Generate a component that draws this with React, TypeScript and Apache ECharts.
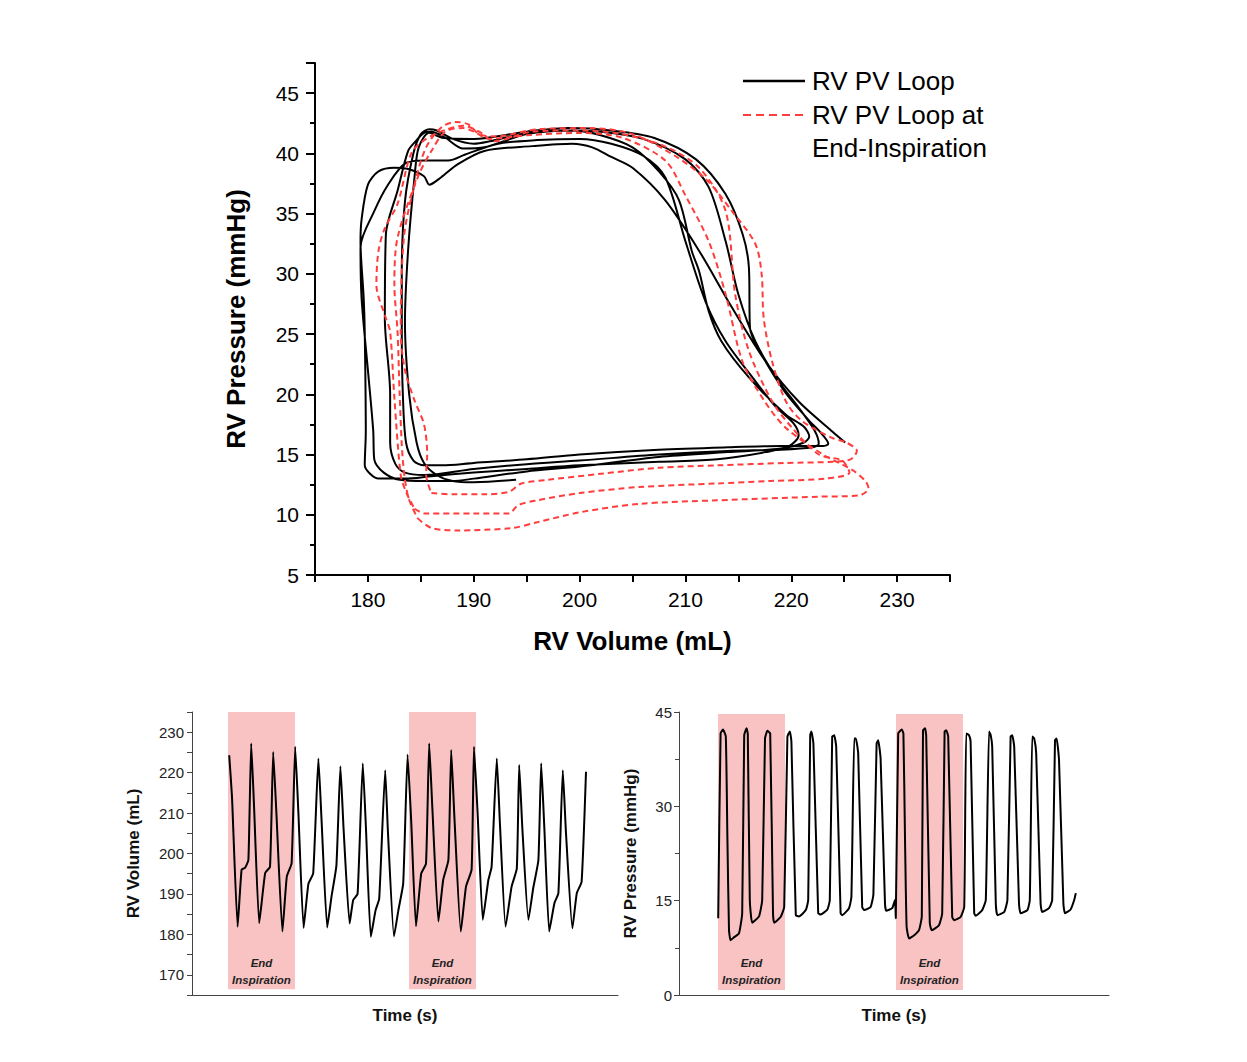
import React, { useEffect, useRef } from 'react';
import * as echarts from 'echarts';

const FONT = '"Liberation Sans", Arial, Helvetica, sans-serif';

// ---------- Top: RV PV loops (volume mL, pressure mmHg) ----------
const blackLoopTrace: [number, number][] = [
  [225.1, 16.0], [223.9, 16.9], [220.7, 19.4], [217.6, 22.7], [214.4, 27.2], [211.3, 31.9], [208.1, 36.1], [205, 38.8], [203, 39.7], [201.2, 40.5], [199.3, 40.8], [195.5, 40.6], [191, 40.2], [188.5, 39.1], [186.9, 38.0], [185.8, 37.4], [185.3, 38.1], [183.8, 38.7], [182.5, 38.8], [181, 38.5], [180, 37.4], [179.4, 34.5], [179.3, 32.7], [179.6, 28], [179.7, 25.2], [179.8, 16.9], [179.7, 14.1], [180.2, 13.4], [181, 13.0], [183.5, 13.0], [186, 13.2], [190, 13.5], [195, 13.8], [200, 14.1], [207.5, 14.4], [213, 14.6], [217.6, 15.2], [219.8, 15.7], [220.7, 16.6],
  [220.2, 17.6], [218.5, 19.0], [216.6, 21.1], [213.8, 24.4], [211.9, 27.7], [210, 32.7], [208.1, 38], [206, 39.8], [203, 40.8], [200, 41.2], [196, 41.1], [192.3, 40.8], [189.2, 39.9], [187.6, 39.4], [185.3, 39.4], [183.6, 39.2], [181.9, 37.4], [180.6, 35.2], [179.3, 32.2], [179.4, 28], [180, 22], [180.5, 17], [180.6, 14.6], [181.5, 13.5], [183, 12.9], [185.3, 12.8], [188, 12.8], [190, 13.0], [195, 13.6], [200, 14.0], [207.5, 14.8], [214, 15.2], [219, 15.5], [221.2, 16.0], [221.7, 16.5],
  [221.2, 17.3], [219.5, 18.3], [216, 21.4], [213.4, 24.4], [212.2, 26.9], [211.3, 30.2], [210.6, 31.9], [209.4, 36.1], [207.5, 38.5], [205, 40.5], [202, 41.5], [199.3, 41.9], [195, 41.6], [191, 40.5], [189, 40.4], [187.3, 41.3], [186, 41.8], [185.3, 41.7], [184.5, 41.0], [183.8, 40.2], [182.8, 36.9], [181.7, 33.3], [181.6, 26.3], [182.1, 20], [182.1, 16], [182.6, 14.2], [183.5, 13.5], [185.3, 13.3], [190, 13.8], [195, 14.2], [200, 14.5], [207.5, 15.0], [214, 15.3], [219, 15.4], [222, 15.6], [222.6, 15.9],
  [222.2, 17], [220.7, 18.9], [218.8, 21.1], [216.6, 24.4], [215, 28.3], [213.8, 32.7], [212.2, 37.2], [210, 39.5], [206, 41.2], [202, 41.8], [198, 41.9], [194, 41.5], [191.5, 41.0], [190, 40.8], [188, 41.2], [186.5, 41.9], [185.8, 42.0], [185, 41.6], [184.3, 40], [183.5, 36], [183.2, 30], [183.2, 25.2], [183.3, 20], [183.6, 16], [184.3, 14.5], [185.3, 14.1], [187, 14.1], [190, 14.3], [195, 14.6], [200, 15.0], [207.5, 15.4], [214, 15.6], [219, 15.7], [223, 15.7], [223.5, 15.9],
  [222.8, 16.8], [221.7, 17.8], [219.4, 20.2], [217.2, 23.3], [216.1, 25.5], [216, 30.5], [215.4, 33.3], [213.8, 36.6], [211, 39.5], [207, 41.3], [203, 41.9], [199, 42.1], [195, 41.8], [190, 41.2], [187, 41.3], [185.8, 41.7], [184.8, 40.5], [184.4, 38], [183.8, 32], [183.5, 26], [183.9, 20], [184.6, 16], [185.3, 14.3], [186.5, 13.3], [188, 12.8], [190, 12.7], [194, 12.9],
];

const redLoop1: [number, number][] = [
  [186.0, 11.8], [188, 11.7], [191, 11.7], [193.3, 11.9], [194.5, 12.6], [197, 12.9], [202, 13.4], [207.5, 13.9], [213, 14.1], [219.4, 14.3], [224, 14.4], [225.6, 14.6], [226.2, 15.3], [225.2, 16.0], [223.8, 16.4], [221, 17.8], [219.5, 19.4], [218.2, 22.7], [217.4, 26.3], [217.2, 30], [216.6, 32.5], [214.4, 35.2], [212, 37.8], [209, 39.8], [205, 41.6], [201, 42.1], [196, 42.0], [192, 41.4], [190.5, 41.6], [189.5, 42.4], [188.3, 42.6], [187, 42.2], [185.5, 40.5], [184.4, 37.4], [183.4, 33], [183.1, 25.2], [183.5, 22], [184.4, 19.5], [185.3, 17.5], [185.6, 15], [185.5, 13.3], [186.0, 11.8],
];
const redLoop2: [number, number][] = [
  [184.4, 10.5], [185.4, 10.1], [190, 10.1], [193.3, 10.1], [194.2, 10.8], [196, 11.2], [200, 11.8], [205.6, 12.3], [213, 12.6], [218, 12.8], [223.2, 13.0], [225.5, 13.5], [224.8, 14.5], [222.6, 15.0], [220.1, 17.2], [218.2, 19.4], [216, 23.6], [214.7, 28.3], [213.8, 35.2], [211.3, 38.8], [208, 40.6], [204, 41.6], [200, 41.9], [195.5, 41.8], [192, 41.0], [190.5, 41.8], [189, 42.3], [187.5, 42.0], [185.5, 41.2], [184.1, 40.0], [182.8, 35.8], [181.6, 33.8], [181, 31.9], [180.8, 29.1], [181.7, 26.3], [182.1, 25.2], [182.5, 19.7], [183.1, 13.3], [183.6, 11.9], [184.4, 10.5],
];
const redLoop3: [number, number][] = [
  [184.7, 9.7], [186, 8.9], [188.5, 8.7], [193.6, 8.9], [196.1, 9.4], [200, 10.2], [205.6, 10.9], [213, 11.2], [222.6, 11.5], [226.4, 11.6], [227.3, 12.2], [227, 12.8], [225.8, 13.7], [223, 15.0], [219.5, 17.2], [217.5, 19.4], [215.4, 22.7], [213.8, 28.3], [212.2, 32.7], [210, 36.5], [208.1, 39.4], [204, 41.3], [200, 41.7], [195, 41.5], [191.5, 41.2], [190, 41.8], [189, 42.1], [187.3, 41.8], [186, 40.2], [184.8, 38.2], [182.8, 33], [182.5, 29.1], [182.8, 25.2], [183, 20], [183.3, 14.5], [183.8, 11.5], [184.7, 9.7],
];

// ---------- Bottom left: RV volume vs time (s, mL) ----------
const volumeTrace: [number, number][] = [
  [0.93, 224.3], [1.00, 214], [1.14, 181.9], [1.24, 196], [1.33, 196.5], [1.41, 198.4], [1.48, 227.2],
  [1.55, 212], [1.68, 182.8], [1.83, 195.2], [1.95, 196.7], [2.03, 225.1],
  [2.11, 210], [2.26, 180.7], [2.37, 194.3], [2.49, 197.6], [2.58, 226.4],
  [2.66, 210], [2.79, 181.6], [2.91, 192.5], [3.03, 195.1], [3.16, 223.5],
  [3.24, 208], [3.38, 181.7], [3.49, 189.5], [3.61, 197], [3.71, 221.6],
  [3.79, 206], [3.94, 182.7], [4.03, 188.5], [4.14, 190], [4.27, 222.3],
  [4.35, 206], [4.47, 179.4], [4.59, 186], [4.68, 188.8], [4.83, 220.6],
  [4.90, 205], [5.05, 179.5], [5.16, 186], [5.28, 192.6], [5.39, 224.5],
  [5.48, 208], [5.60, 182], [5.73, 195], [5.85, 197.5], [5.93, 227.2],
  [6.01, 211], [6.16, 183.2], [6.28, 193.5], [6.41, 198.4], [6.48, 225.6],
  [6.56, 209], [6.72, 180.7], [6.85, 191.8], [6.99, 196], [7.05, 226.4],
  [7.14, 210], [7.27, 183.6], [7.41, 193.5], [7.49, 196.7], [7.62, 223.5],
  [7.70, 207], [7.84, 181.9], [7.99, 191.8], [8.12, 196.3], [8.18, 221.9],
  [8.26, 206], [8.41, 183.6], [8.53, 191.4], [8.66, 198.4], [8.73, 222.3],
  [8.81, 206], [8.93, 180.7], [9.06, 187.7], [9.16, 190.2], [9.27, 220.6],
  [9.35, 205], [9.51, 181.5], [9.62, 190.2], [9.74, 193], [9.85, 220.2],
];
const volumeInspWindows: [number, number][] = [[0.9, 2.575], [5.425, 7.1]];

// ---------- Bottom right: RV pressure vs time (s, mmHg) ----------
const pressureTrace: [number, number][] = [
  [0.98, 12.2], [1.04, 41.6], [1.10, 42.2], [1.17, 41.1], [1.21, 25], [1.25, 10.3], [1.29, 8.7], [1.38, 9.2], [1.50, 9.8], [1.58, 13],
  [1.63, 41.3], [1.69, 42.4], [1.72, 41.5], [1.77, 15.1], [1.83, 11.5], [2.00, 12.5], [2.08, 15.1],
  [2.15, 40.8], [2.21, 42], [2.28, 41.6], [2.35, 13], [2.38, 11.5], [2.54, 12.4], [2.63, 14],
  [2.71, 41.1], [2.77, 41.9], [2.81, 40.3], [2.92, 12.7], [3.00, 12.5], [3.17, 13.5], [3.23, 15.1],
  [3.28, 41.3], [3.31, 41.9], [3.36, 40], [3.48, 13], [3.54, 12.8], [3.71, 13.6], [3.77, 15.1],
  [3.83, 41.1], [3.88, 41.3], [3.93, 39.5], [4.04, 13], [4.08, 12.7], [4.25, 13.8], [4.31, 15.6],
  [4.38, 40.8], [4.42, 40.8], [4.48, 38.4], [4.58, 14], [4.63, 13.5], [4.79, 14], [4.86, 16],
  [4.94, 40], [4.98, 40.5], [5.04, 37.6], [5.15, 14.5], [5.18, 13.4], [5.33, 13.8], [5.40, 15.1], [5.42, 12.2],
  [5.48, 41.6], [5.57, 42.2], [5.61, 41.6], [5.65, 25], [5.69, 10.9], [5.75, 9], [5.88, 9.5], [6.00, 10.3], [6.07, 12.5],
  [6.10, 42.1], [6.15, 42.4], [6.18, 41.2], [6.27, 11.4], [6.32, 10.3], [6.50, 11.1], [6.58, 13],
  [6.64, 41.9], [6.68, 42.1], [6.73, 41.1], [6.83, 12.4], [6.88, 11.9], [7.04, 12.4], [7.13, 14],
  [7.18, 41.6], [7.25, 41.3], [7.29, 40.3], [7.38, 13], [7.42, 12.6], [7.58, 13.5], [7.67, 15.1],
  [7.75, 41.9], [7.79, 41.4], [7.83, 39.5], [7.92, 14.5], [7.96, 12.7], [8.13, 13.2], [8.21, 15.1],
  [8.29, 41.1], [8.33, 41.3], [8.38, 39.5], [8.50, 14.5], [8.54, 13], [8.71, 13.5], [8.77, 15.1],
  [8.83, 41.1], [8.88, 40.8], [8.93, 38.4], [9.04, 14.5], [9.08, 13.2], [9.25, 13.8], [9.33, 15.1],
  [9.40, 40.5], [9.44, 40.8], [9.50, 37.4], [9.61, 14.5], [9.65, 13], [9.79, 13.6], [9.88, 15.1], [9.92, 16.2],
];
const pressureInspWindows: [number, number][] = [[0.975, 2.65], [5.425, 7.1]];

const PINK = '#f9c3c3';
const RED = '#ff3d3d';

function buildOption(): any {
  const bottomAxisLine = { show: true, lineStyle: { color: '#444', width: 1 } };
  const inspLabel = {
    show: true,
    position: 'insideBottom',
    distance: 1,
    formatter: 'End\nInspiration',
    fontFamily: FONT,
    fontSize: 11.5,
    fontStyle: 'italic',
    fontWeight: 'bold',
    color: '#222',
    lineHeight: 17,
  };
  return {
    animation: false,
    backgroundColor: '#ffffff',
    textStyle: { fontFamily: FONT },
    grid: [
      { left: 315, top: 63, width: 635, height: 512 },
      { left: 192, top: 712, width: 426, height: 283 },
      { left: 679, top: 712, width: 430, height: 283 },
    ],
    xAxis: [
      {
        type: 'value', gridIndex: 0, min: 175, max: 235, interval: 5,
        axisLine: { show: true, onZero: false, lineStyle: { color: '#000', width: 2 } },
        axisTick: { show: true, length: 7, lineStyle: { color: '#000', width: 2 } },
        axisLabel: {
          formatter: (v: number) => (v % 10 === 0 ? String(v) : ''),
          fontSize: 21, color: '#000', margin: 14, fontFamily: FONT,
        },
        splitLine: { show: false },
        name: 'RV Volume (mL)', nameLocation: 'middle', nameGap: 53,
        nameTextStyle: { fontSize: 26, fontWeight: 'bold', color: '#000', fontFamily: FONT },
      },
      {
        type: 'value', gridIndex: 1, min: 0, max: 10.65,
        axisLine: { ...bottomAxisLine, onZero: false },
        axisTick: { show: false }, axisLabel: { show: false }, splitLine: { show: false },
        name: 'Time (s)', nameLocation: 'middle', nameGap: 12,
        nameTextStyle: { fontSize: 17, fontWeight: 'bold', color: '#111', fontFamily: FONT },
      },
      {
        type: 'value', gridIndex: 2, min: 0, max: 10.75,
        axisLine: { ...bottomAxisLine, onZero: false },
        axisTick: { show: false }, axisLabel: { show: false }, splitLine: { show: false },
        name: 'Time (s)', nameLocation: 'middle', nameGap: 12,
        nameTextStyle: { fontSize: 17, fontWeight: 'bold', color: '#111', fontFamily: FONT },
      },
    ],
    yAxis: [
      {
        type: 'value', gridIndex: 0, min: 5, max: 47.5, interval: 5,
        axisLine: { show: true, onZero: false, lineStyle: { color: '#000', width: 2 } },
        axisTick: { show: true, length: 9, lineStyle: { color: '#000', width: 2 } },
        minorTick: { show: true, splitNumber: 2, length: 5, lineStyle: { color: '#000', width: 2 } },
        axisLabel: { showMaxLabel: false, fontSize: 21, color: '#000', margin: 16, fontFamily: FONT },
        splitLine: { show: false }, minorSplitLine: { show: false },
        name: 'RV Pressure (mmHg)', nameLocation: 'middle', nameGap: 66,
        nameTextStyle: { fontSize: 26, fontWeight: 'bold', color: '#000', fontFamily: FONT },
      },
      {
        type: 'value', gridIndex: 1, min: 165, max: 235, interval: 5,
        axisLine: { ...bottomAxisLine, onZero: false },
        axisTick: { show: true, length: 5, lineStyle: { color: '#444', width: 1 } },
        axisLabel: {
          formatter: (v: number) => (v % 10 === 0 ? String(v) : ''),
          fontSize: 15, color: '#222', margin: 8, fontFamily: FONT,
        },
        splitLine: { show: false },
        name: 'RV Volume (mL)', nameLocation: 'middle', nameGap: 50,
        nameTextStyle: { fontSize: 17, fontWeight: 'bold', color: '#111', fontFamily: FONT },
      },
      {
        type: 'value', gridIndex: 2, min: 0, max: 45, interval: 15,
        axisLine: { ...bottomAxisLine, onZero: false },
        axisTick: { show: true, length: 5, lineStyle: { color: '#444', width: 1 } },
        minorTick: { show: true, splitNumber: 2, length: 4, lineStyle: { color: '#444', width: 1 } },
        axisLabel: { fontSize: 15, color: '#222', margin: 7, fontFamily: FONT },
        splitLine: { show: false }, minorSplitLine: { show: false },
        name: 'RV Pressure (mmHg)', nameLocation: 'middle', nameGap: 40,
        nameTextStyle: { fontSize: 17, fontWeight: 'bold', color: '#111', fontFamily: FONT },
      },
    ],
    series: [
      {
        name: 'RV PV Loop', type: 'line', xAxisIndex: 0, yAxisIndex: 0,
        data: blackLoopTrace, showSymbol: false, symbol: 'none', smooth: 0.3,
        lineStyle: { color: '#000', width: 2 },
      },
      ...[redLoop1, redLoop2, redLoop3].map((d) => ({
        name: 'RV PV Loop at End-Inspiration', type: 'line', xAxisIndex: 0, yAxisIndex: 0,
        data: d, showSymbol: false, symbol: 'none', smooth: 0.3,
        lineStyle: { color: RED, width: 2, type: [6, 4] },
      })),
      {
        name: 'RV Volume', type: 'line', xAxisIndex: 1, yAxisIndex: 1,
        data: volumeTrace, showSymbol: false, symbol: 'none', smooth: 0.15,
        lineStyle: { color: '#000', width: 2 },
        markArea: {
          silent: true,
          itemStyle: { color: PINK },
          label: inspLabel,
          data: volumeInspWindows.map(([a, b]) => [{ xAxis: a, yAxis: 166.4 }, { xAxis: b, yAxis: 235 }]),
        },
      },
      {
        name: 'RV Pressure', type: 'line', xAxisIndex: 2, yAxisIndex: 2,
        data: pressureTrace, showSymbol: false, symbol: 'none', smooth: 0.15,
        lineStyle: { color: '#000', width: 2 },
        markArea: {
          silent: true,
          itemStyle: { color: PINK },
          label: inspLabel,
          data: pressureInspWindows.map(([a, b]) => [{ xAxis: a, yAxis: 0.8 }, { xAxis: b, yAxis: 44.7 }]),
        },
      },
    ],
    graphic: [
      { type: 'line', shape: { x1: 743, y1: 81, x2: 805, y2: 81 }, style: { stroke: '#000', lineWidth: 2.5 } },
      { type: 'text', x: 812, y: 81, style: { text: 'RV PV Loop', font: `26px ${FONT}`, fill: '#000', verticalAlign: 'middle' } },
      { type: 'line', shape: { x1: 743, y1: 115, x2: 805, y2: 115 }, style: { stroke: RED, lineWidth: 2, lineDash: [8, 5] } },
      { type: 'text', x: 812, y: 115, style: { text: 'RV PV Loop at', font: `26px ${FONT}`, fill: '#000', verticalAlign: 'middle' } },
      { type: 'text', x: 812, y: 148, style: { text: 'End-Inspiration', font: `26px ${FONT}`, fill: '#000', verticalAlign: 'middle' } },
    ],
  };
}

export default function App() {
  const ref = useRef<HTMLDivElement>(null);
  useEffect(() => {
    if (!ref.current) return;
    const chart = echarts.init(ref.current, null, { renderer: 'svg' });
    chart.setOption(buildOption());
    return () => chart.dispose();
  }, []);
  return (
    <div
      ref={ref}
      style={{ position: 'absolute', left: 0, top: 0, width: 1247, height: 1062, background: '#fff' }}
    />
  );
}
